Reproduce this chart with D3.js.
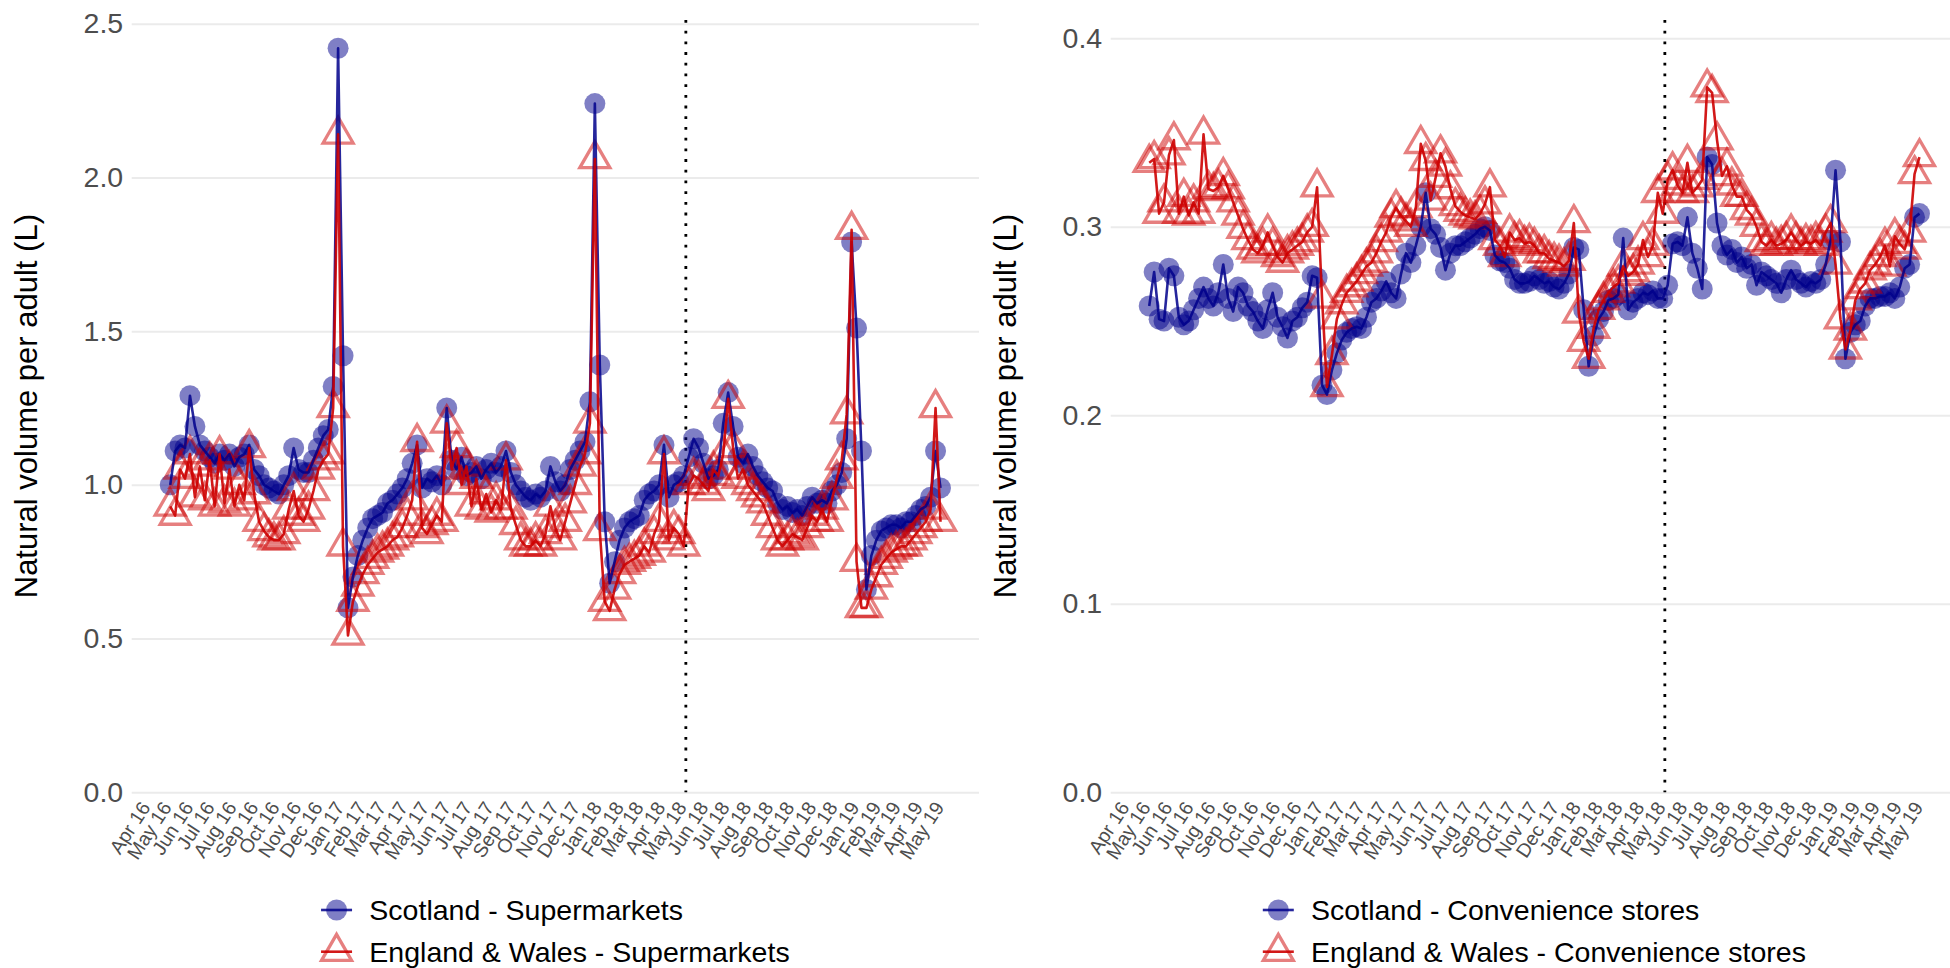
<!DOCTYPE html>
<html>
<head>
<meta charset="utf-8">
<script src="https://cdn.jsdelivr.net/npm/d3@7"></script>
<style>
  body { margin: 0; background: #fff; }
  svg { display: block; }
</style>
</head>
<body>
<svg id="chart" width="1950" height="968"></svg>
<script>
// Weekly alcohol sales, natural volume per adult (litres), weeks ending Saturday
const firstWeekEnding = new Date(2016, 3, 30);
const weekCount = 157;
const weeks = d3.range(weekCount).map(i => d3.timeDay.offset(firstWeekEnding, 7 * i));
const monthTicks = d3.timeMonth.range(new Date(2016, 3, 1), new Date(2019, 5, 1));
const policyDate = new Date(2018, 4, 1);

const scotlandSupermarkets = [
  1.00,1.11,1.13,1.12,1.29,1.19,1.13,1.11,1.09,1.07,
  1.10,1.08,1.10,1.06,1.09,1.10,1.13,1.05,1.03,1.00,
  0.99,0.98,0.97,1.00,1.03,1.12,1.05,1.04,1.04,1.08,
  1.12,1.16,1.18,1.32,2.42,1.42,0.60,0.70,0.77,0.82,
  0.86,0.89,0.90,0.91,0.94,0.95,0.97,0.99,1.02,1.07,
  1.13,0.99,1.02,1.01,1.03,1.00,1.25,1.08,1.05,1.09,
  1.03,1.04,1.06,1.02,1.05,1.07,1.04,1.06,1.11,1.04,
  1.00,0.98,0.96,0.95,0.97,0.96,0.98,1.06,1.01,0.98,
  1.00,1.05,1.08,1.11,1.14,1.27,2.24,1.39,0.88,0.68,
  0.75,0.82,0.86,0.88,0.89,0.90,0.95,0.97,0.98,1.00,
  1.13,0.96,1.00,1.01,1.03,1.09,1.15,1.12,1.07,1.02,
  1.03,1.05,1.20,1.30,1.19,1.09,1.07,1.10,1.06,1.03,
  1.01,0.99,0.98,0.94,0.92,0.93,0.91,0.92,0.90,0.93,
  0.96,0.94,0.95,0.94,0.98,1.00,1.04,1.15,1.79,1.51,
  1.11,0.66,0.77,0.82,0.85,0.86,0.87,0.87,0.86,0.88,
  0.88,0.90,0.92,0.93,0.96,1.11,0.99
];
const englandWalesSupermarkets = [
  0.93,0.90,1.05,1.02,1.10,0.96,1.06,0.95,1.08,0.93,
  1.10,0.94,1.05,0.93,1.00,0.95,1.12,0.97,0.88,0.85,
  0.83,0.82,0.82,0.84,0.92,0.98,0.90,0.88,0.92,0.98,
  1.05,1.08,1.10,1.25,2.14,0.80,0.51,0.62,0.67,0.71,
  0.74,0.76,0.78,0.79,0.80,0.82,0.83,0.86,0.90,0.95,
  1.14,0.86,0.84,0.87,0.90,0.88,1.20,1.05,1.12,1.00,
  1.06,0.93,1.02,0.92,0.97,0.91,0.95,0.92,1.08,0.92,
  0.87,0.82,0.80,0.80,0.82,0.80,0.84,0.93,0.86,0.82,
  0.88,0.94,1.00,1.06,1.10,1.20,2.06,0.85,0.62,0.59,
  0.66,0.71,0.74,0.75,0.76,0.77,0.80,0.78,0.84,0.88,
  1.10,0.82,0.86,0.84,0.80,1.00,1.03,1.02,1.00,0.98,
  1.05,1.03,1.10,1.28,1.12,1.02,1.05,1.00,0.98,0.96,
  0.94,0.90,0.86,0.82,0.80,0.82,0.84,0.83,0.82,0.86,
  0.90,0.88,0.92,0.88,0.95,1.02,1.08,1.23,1.83,0.75,
  0.60,0.60,0.66,0.70,0.74,0.76,0.78,0.79,0.80,0.80,
  0.82,0.84,0.86,0.88,0.92,1.25,0.88
];
const scotlandConvenience = [
  0.258,0.276,0.251,0.250,0.278,0.274,0.252,0.248,0.250,0.256,
  0.262,0.268,0.262,0.258,0.265,0.280,0.262,0.255,0.268,0.265,
  0.258,0.255,0.250,0.246,0.256,0.265,0.252,0.247,0.241,0.250,
  0.252,0.257,0.260,0.274,0.273,0.216,0.211,0.224,0.233,0.240,
  0.244,0.246,0.247,0.246,0.252,0.260,0.262,0.266,0.271,0.265,
  0.262,0.275,0.286,0.281,0.290,0.300,0.318,0.299,0.296,0.289,
  0.277,0.286,0.290,0.290,0.292,0.294,0.296,0.299,0.300,0.298,
  0.285,0.282,0.281,0.278,0.272,0.270,0.270,0.271,0.274,0.272,
  0.270,0.271,0.268,0.267,0.270,0.275,0.289,0.288,0.256,0.226,
  0.242,0.251,0.255,0.261,0.262,0.264,0.294,0.256,0.260,0.262,
  0.265,0.264,0.266,0.262,0.262,0.269,0.291,0.292,0.290,0.305,
  0.286,0.278,0.267,0.337,0.333,0.302,0.290,0.285,0.288,0.281,
  0.284,0.278,0.280,0.269,0.276,0.274,0.272,0.270,0.265,0.272,
  0.277,0.272,0.270,0.268,0.271,0.270,0.272,0.280,0.293,0.330,
  0.292,0.230,0.244,0.248,0.250,0.258,0.262,0.262,0.263,0.263,
  0.265,0.262,0.268,0.278,0.280,0.305,0.307
];
const englandWalesConvenience = [
  0.334,0.336,0.307,0.313,0.338,0.346,0.307,0.316,0.306,0.313,
  0.307,0.349,0.320,0.319,0.321,0.327,0.320,0.313,0.306,0.299,
  0.293,0.288,0.286,0.290,0.297,0.290,0.284,0.281,0.286,0.288,
  0.290,0.292,0.297,0.300,0.321,0.262,0.215,0.232,0.251,0.259,
  0.265,0.268,0.271,0.275,0.279,0.281,0.286,0.292,0.297,0.305,
  0.310,0.306,0.303,0.300,0.310,0.344,0.335,0.314,0.326,0.339,
  0.332,0.320,0.311,0.308,0.306,0.305,0.304,0.307,0.312,0.321,
  0.293,0.290,0.284,0.297,0.293,0.294,0.291,0.292,0.290,0.286,
  0.286,0.283,0.282,0.281,0.279,0.282,0.302,0.254,0.239,0.230,
  0.246,0.256,0.261,0.265,0.268,0.270,0.279,0.274,0.276,0.280,
  0.293,0.284,0.290,0.318,0.307,0.325,0.330,0.322,0.318,0.334,
  0.318,0.321,0.325,0.374,0.371,0.346,0.327,0.332,0.322,0.316,
  0.316,0.309,0.306,0.300,0.292,0.290,0.293,0.290,0.291,0.293,
  0.297,0.293,0.290,0.292,0.291,0.293,0.290,0.297,0.302,0.280,
  0.251,0.235,0.245,0.261,0.267,0.270,0.277,0.280,0.284,0.290,
  0.279,0.295,0.291,0.288,0.297,0.328,0.337
];

const supermarketTicks = [0, 0.5, 1.0, 1.5, 2.0, 2.5];
const convenienceTicks = [0, 0.1, 0.2, 0.3, 0.4];
const yTitle = "Natural volume per adult (L)";

const FONT = '"Liberation Sans", Arial, Helvetica, sans-serif';
const BLUE = "#00008B";
const RED = "#CD0000";

const panels = [
  {
    offset: 0, yMax: 2.512, ticks: supermarketTicks,
    series: [
      { label: "Scotland - Supermarkets", values: scotlandSupermarkets, kind: "scotland" },
      { label: "England & Wales - Supermarkets", values: englandWalesSupermarkets, kind: "ew" }
    ]
  },
  {
    offset: 979, yMax: 0.4097, ticks: convenienceTicks,
    series: [
      { label: "Scotland - Convenience stores", values: scotlandConvenience, kind: "scotland" },
      { label: "England & Wales - Convenience stores", values: englandWalesConvenience, kind: "ew" }
    ]
  }
];

const svg = d3.select("#chart").attr("font-family", FONT);
svg.append("rect").attr("width", 1950).attr("height", 968).attr("fill", "#fff");

const plotTop = 20, plotBottom = 792.3;
const t0 = weeks[0], t1 = weeks[weeks.length - 1];
const span = t1 - t0;
const xDomain = [new Date(+t0 - 0.05 * span), new Date(+t1 + 0.05 * span)];

const circleSym = d3.symbol(d3.symbolCircle, Math.PI * 10.5 * 10.5);
const triangleSym = d3.symbol(d3.symbolTriangle, 390);

function styleMarker(sel, kind) {
  if (kind === "scotland") {
    sel.attr("d", circleSym).attr("fill", BLUE).attr("fill-opacity", 0.5).attr("stroke", "none");
  } else {
    sel.attr("d", triangleSym).attr("fill", "none").attr("stroke", RED)
       .attr("stroke-opacity", 0.5).attr("stroke-width", 3.3).attr("stroke-linejoin", "miter");
  }
}
function styleLine(sel, kind) {
  sel.attr("fill", "none")
     .attr("stroke", kind === "scotland" ? BLUE : RED)
     .attr("stroke-opacity", kind === "scotland" ? 0.85 : 0.9)
     .attr("stroke-width", 2.6)
     .attr("stroke-linejoin", "round");
}

panels.forEach(p => {
  const g = svg.append("g");
  const left = 131.7 + p.offset, right = 979 + p.offset;
  const x = d3.scaleTime().domain(xDomain).range([left, right]);
  const y = d3.scaleLinear().domain([0, p.yMax]).range([plotBottom, plotTop]);

  // horizontal gridlines
  g.append("g")
    .attr("transform", `translate(${left},0)`)
    .call(d3.axisLeft(y).tickValues(p.ticks).tickSize(-(right - left)).tickFormat(""))
    .call(a => a.select(".domain").remove())
    .selectAll("line").attr("stroke", "#EBEBEB").attr("stroke-width", 2);

  // y tick labels
  g.append("g")
    .attr("transform", `translate(${left},0)`)
    .call(d3.axisLeft(y).tickValues(p.ticks).tickSize(0).tickPadding(8.5).tickFormat(d3.format(".1f")))
    .attr("font-family", FONT).attr("font-size", 28.5)
    .call(a => a.select(".domain").remove())
    .selectAll("text").attr("fill", "#4D4D4D");

  // month labels
  g.append("g")
    .attr("transform", `translate(0,${plotBottom})`)
    .call(d3.axisBottom(x).tickValues(monthTicks).tickSize(0).tickFormat(d3.timeFormat("%b %y")))
    .attr("font-family", FONT).attr("font-size", 19.5)
    .call(a => a.select(".domain").remove())
    .selectAll("text")
      .attr("fill", "#4D4D4D")
      .attr("text-anchor", "end")
      .attr("x", 0).attr("y", 0).attr("dy", "0")
      .attr("transform", "translate(1,15) rotate(-57)");

  // minimum unit pricing start
  g.append("line")
    .attr("x1", x(policyDate)).attr("x2", x(policyDate))
    .attr("y1", plotTop).attr("y2", plotBottom)
    .attr("stroke", "#000").attr("stroke-width", 2.8)
    .attr("stroke-dasharray", "2.8 7.9");

  // markers first, then connecting lines
  p.series.forEach(s => {
    g.append("g").selectAll("path")
      .data(s.values)
      .join("path")
      .attr("transform", (v, i) => `translate(${x(weeks[i])},${y(v)})`)
      .call(styleMarker, s.kind);
  });
  const line = d3.line().x((v, i) => x(weeks[i])).y(v => y(v));
  p.series.forEach(s => {
    g.append("path").datum(s.values).attr("d", line).call(styleLine, s.kind);
  });

  // axis title
  g.append("text")
    .attr("transform", `translate(${37 + p.offset},${(plotTop + plotBottom) / 2}) rotate(-90)`)
    .attr("text-anchor", "middle")
    .attr("font-size", 31)
    .attr("fill", "#000")
    .text(yTitle);

  // legend, centred under the panel
  const leg = g.append("g");
  const rowY = [910, 951.7];
  p.series.forEach((s, k) => {
    const row = leg.append("g").attr("transform", `translate(0,${rowY[k]})`);
    row.append("path").attr("transform", "translate(15.5,0)").call(styleMarker, s.kind);
    row.append("line").attr("x1", 0).attr("x2", 31).attr("y1", 0).attr("y2", 0).call(styleLine, s.kind);
    row.append("text").attr("x", 48.3).attr("y", 0).attr("dy", "0.35em")
      .attr("font-size", 28.5).attr("fill", "#000").text(s.label);
  });
  const widest = d3.max(leg.selectAll("text").nodes(), n => n.getComputedTextLength());
  const legW = 48.3 + widest;
  const centre = (left + right) / 2;
  leg.attr("transform", `translate(${centre - legW / 2},0)`);
});
</script>
</body>
</html>
